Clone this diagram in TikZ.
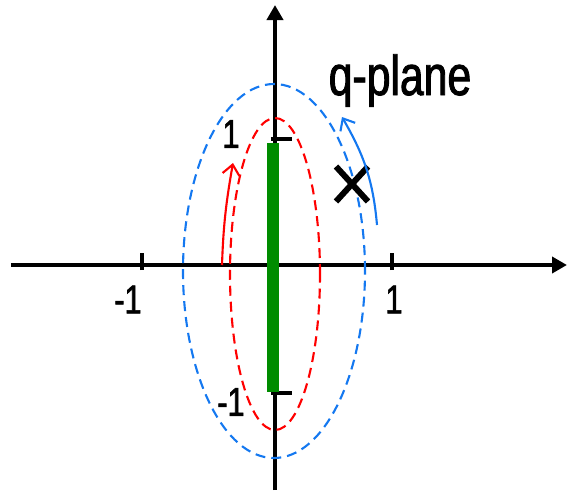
\documentclass[tikz,border=0pt]{standalone}
\usepackage{fontspec}
\setmainfont{Liberation Sans}[FakeStretch=0.76,FakeBold=1.6]
\usetikzlibrary{arrows.meta,shapes.geometric,shapes.misc}
\definecolor{cutgreen}{RGB}{0,140,0}
\definecolor{pathred}{RGB}{255,0,0}
\definecolor{pathblue}{RGB}{20,120,240}

\begin{document}
\begin{tikzpicture}[x=2.5cm,y=2.5cm,>={Triangle[length=3mm,width=3.2mm]},
  axis/.style={line width=2.3pt},
  tickmark/.style={line width=2.3pt},
  lbl/.style={font=\fontsize{23}{23}\selectfont,inner sep=0pt},
  contour/.style={line width=1.2pt,dash pattern=on 2mm off 1.2mm},
  turn/.style={line width=1.2pt,-{Straight Barb[length=2mm,width=3.4mm]}}]
\useasboundingbox (-2.2,-1.8) rectangle (2.336,2.12);
% axes
\coordinate (xl) at (-2.112,0);
\coordinate (xr) at (2.336,0);
\coordinate (yb) at (0,-1.8);
\coordinate (yt) at (0,2.08);
\draw[axis,->] (xl) -- (xr);
\draw[axis,->] (yb) -- (yt);
\foreach \t in {-1.064,0.936}
  \draw[tickmark] (\t,-0.04) -- (\t,0.096);
\foreach \t in {-1.024,1.008}
  \draw[tickmark] (-0.032,\t) -- (0.136,\t);
% contours
\draw[contour,pathred] (0,-0.072) ellipse [x radius=0.36,y radius=1.248];
\draw[contour,pathblue] (-0.008,-0.048) ellipse [x radius=0.728,y radius=1.496];
% cut
\draw[line width=0.24cm,cutgreen] (-0.016,-1.012) -- (-0.016,0.976);
% labels
\node[lbl] (xone) at (0.952,-0.276) {1};
\node[lbl] (xmone) at (-1.176,-0.276) {-1};
\node[lbl] (yone) at (-0.352,1.048) {1};
\node[lbl] (ymone) at (-0.352,-1.096) {-1};
\node[font=\fontsize{32}{32}\selectfont,anchor=base,inner sep=0pt] (plane) at (1.0,1.36) {q-plane};
% pole
\node[cross out,draw,line width=0.12cm,minimum width=0.52cm,minimum height=0.58cm,inner sep=0pt] (pole) at (0.616,0.648) {};
% turning arrows
\coordinate (rs) at (-0.424,0);
\coordinate (re) at (-0.336,0.816);
\draw[turn,pathred] (rs) to[out=88,in=-100] (re);
\coordinate (bs) at (0.816,0.32);
\coordinate (be) at (0.536,1.184);
\draw[turn,pathblue] (bs) to[out=95,in=-60] (be);
\end{tikzpicture}
\end{document}
